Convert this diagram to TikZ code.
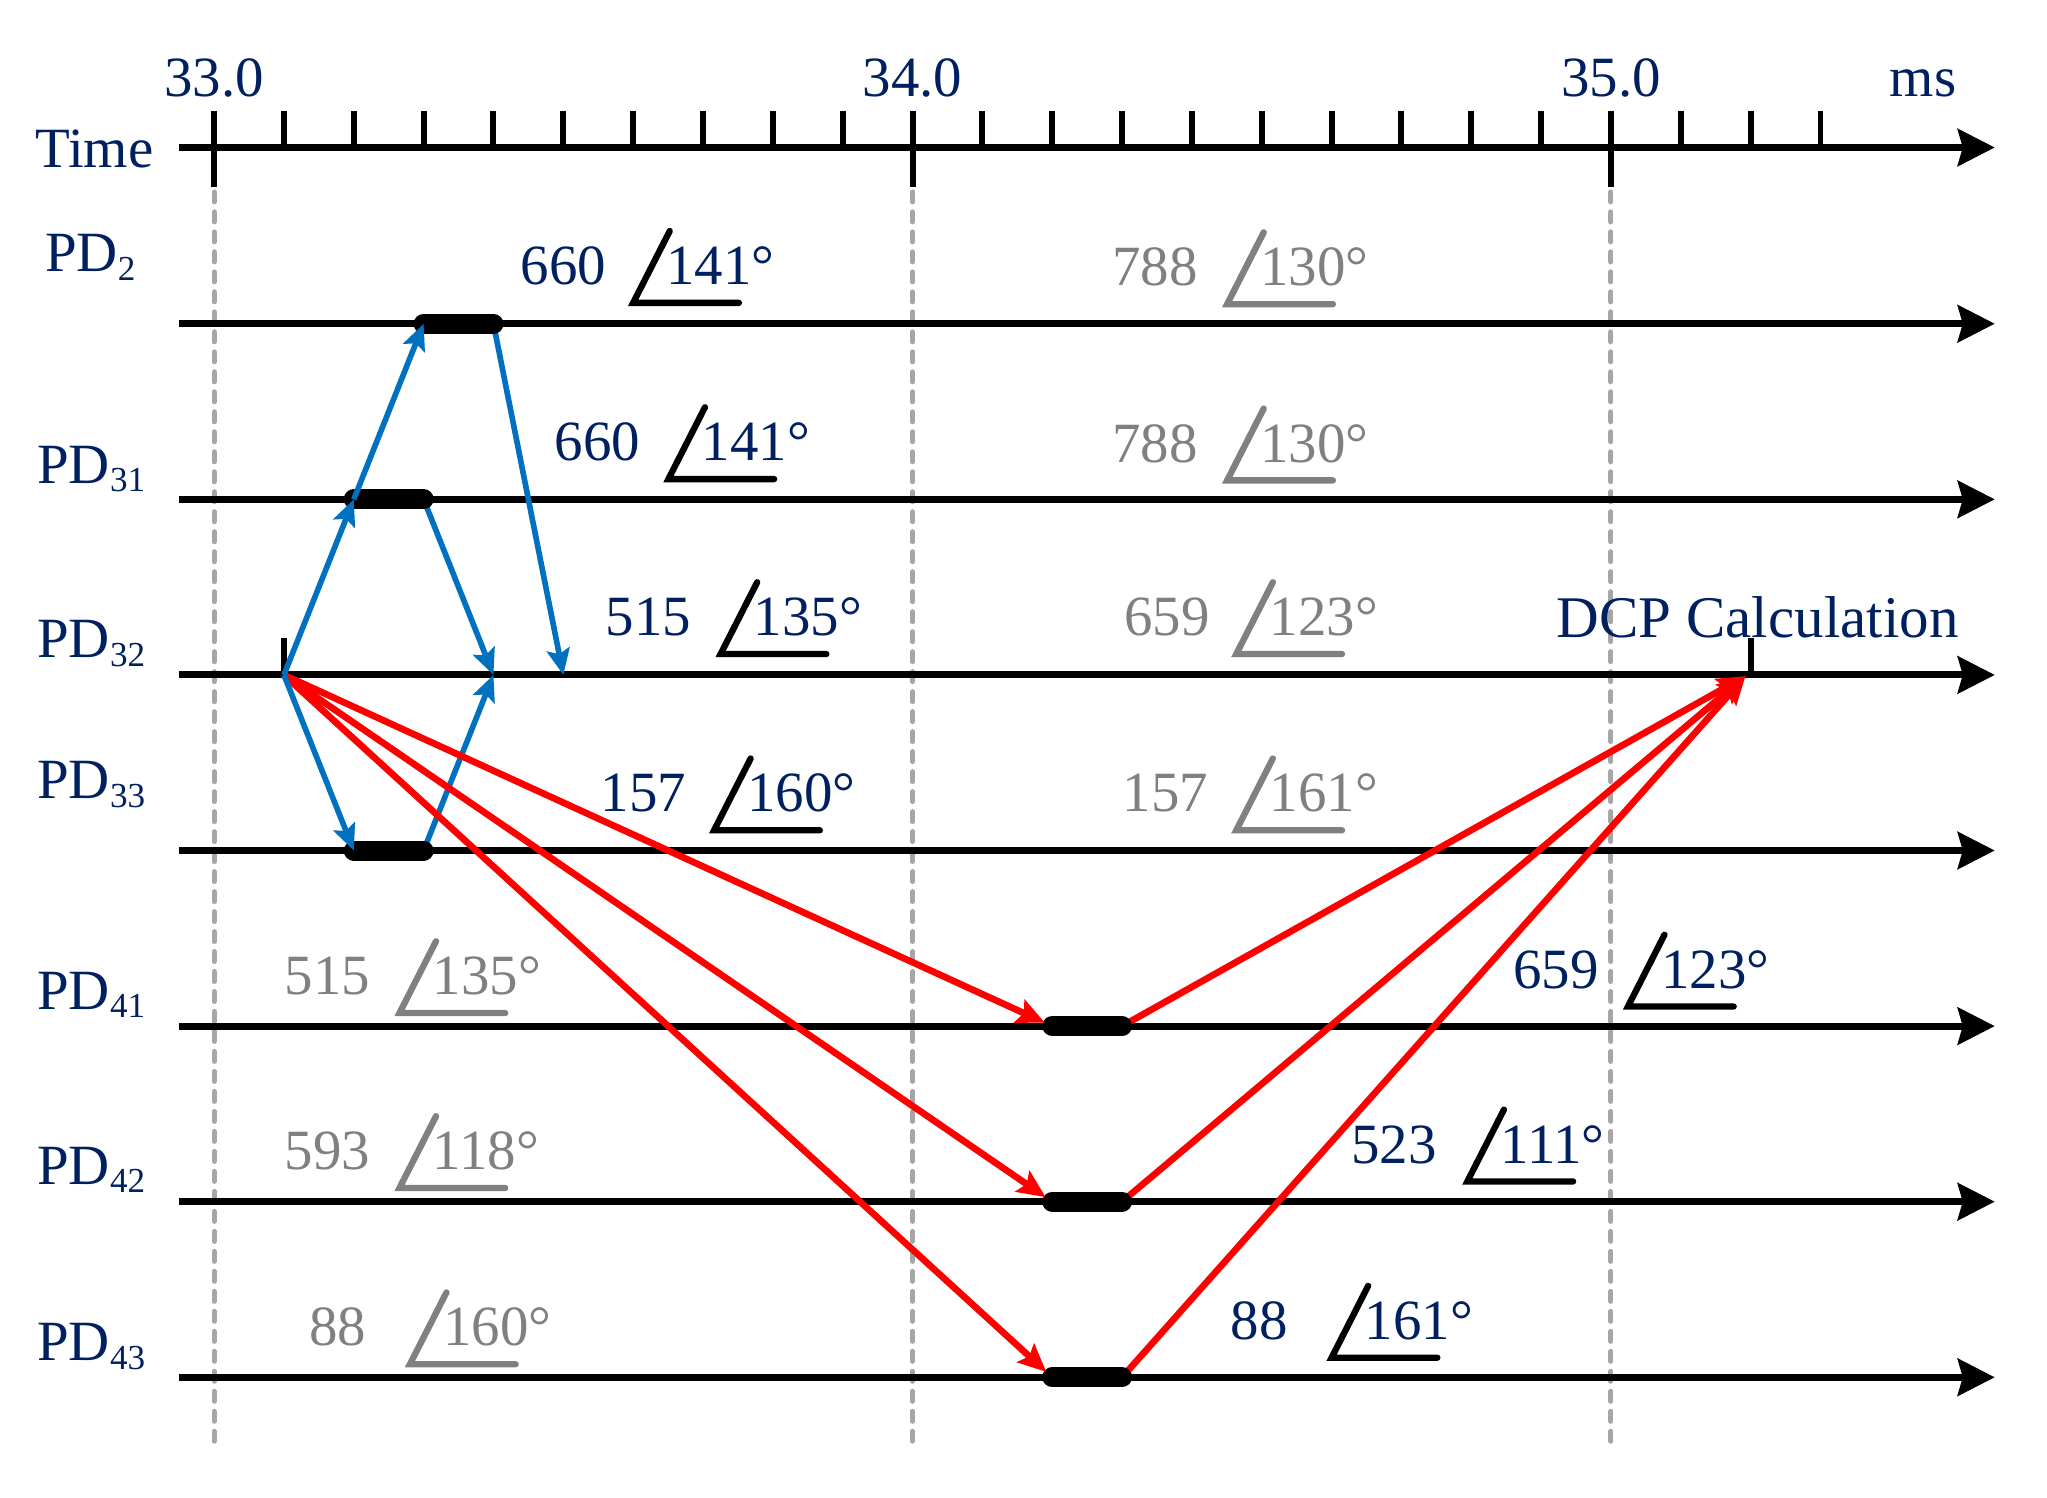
\documentclass[tikz,border=0pt]{standalone}
\usepackage{fontspec}
\setmainfont{Liberation Serif}
\usetikzlibrary{arrows.meta}
\definecolor{navy}{RGB}{0,32,96}
\definecolor{greytext}{RGB}{128,128,128}
\definecolor{gridgrey}{RGB}{166,166,166}
\definecolor{arrblue}{RGB}{0,112,192}
\definecolor{arrred}{RGB}{255,0,0}
\newcommand{\pdsub}[1]{\raisebox{-2.5pt}{\fontsize{10}{10}\selectfont #1}}
% #1 name, #2 vertex x, #3 vertex y, #4 magnitude, #5 magnitude right edge, #6 angle, #7 text colour, #8 mark colour
\newcommand{\anglab}[8]{%
  \node[lab, text=#7, anchor=base east] (#1m) at (#5, #3-14) {#4};
  \draw[angmark, draw=#8] (#2+28, #3-55) -- (#2, #3) -- (#2+81, #3);
  \node[lab, text=#7, anchor=base west] (#1a) at (#2+25, #3-14) {#6°};
}
\begin{document}
\begin{tikzpicture}[x=0.0130548cm, y=-0.0130548cm,
  lab/.style={font=\fontsize{16.2}{16.2}\selectfont, inner sep=0pt, text=navy},
  axisline/.style={line width=2pt, -{Stealth[length=3.7mm,width=3.7mm,inset=0.5mm]}},
  tickline/.style={line width=1.7pt},
  gridline/.style={gridgrey, line width=0.5mm, line cap=round, dash pattern=on 1.0mm off 1.0mm},
  busy/.style={line width=2mm, line cap=round},
  bluearr/.style={arrblue, line width=1.6pt, -{Stealth[length=2.6mm,width=2.3mm,inset=0.5mm]}},
  redarr/.style={arrred, line width=1.9pt, -{Stealth[length=2.8mm,width=2.5mm,inset=0.5mm]}},
  angmark/.style={line width=1.8pt, line cap=round, line join=miter},
]
\useasboundingbox (0,0) rectangle (1568,1147);

% grid lines
\foreach \xx in {164,699,1234} \draw[gridline] (\xx,147) -- (\xx,1104);

% time axis
\coordinate (ts) at (137,113);
\coordinate (te) at (1528,113);
\draw[axisline] (ts) -- (te);
\foreach \i in {0,...,23} {
  \pgfmathsetmacro\xx{164+53.5*\i}
  \draw[tickline] (\xx,85) -- (\xx,113);
}
\foreach \xx in {164,699,1234} \draw[tickline] (\xx,85) -- (\xx,143);
\node[lab, anchor=base] (t33) at (164,74) {33.0};
\node[lab, anchor=base] (t34) at (699,74) {34.0};
\node[lab, anchor=base] (t35) at (1234,74) {35.0};
\node[lab, anchor=base] (tms) at (1473,74) {ms};
\node[lab, anchor=base east] (ttime) at (118,128) {Time};

% PD lines
\foreach \n/\yy in {2/248, 31/382.5, 32/517, 33/651.5, 41/786, 42/920.5, 43/1055} {
  \coordinate (s\n) at (137,\yy);
  \coordinate (e\n) at (1528,\yy);
  \draw[axisline] (s\n) -- (e\n);
}
\node[lab, anchor=base west] (lpd2) at (34,208) {PD\pdsub{2}};
\node[lab, anchor=base west] (lpd31) at (28,370) {PD\pdsub{31}};
\node[lab, anchor=base west] (lpd32) at (28,504) {PD\pdsub{32}};
\node[lab, anchor=base west] (lpd33) at (28,612) {PD\pdsub{33}};
\node[lab, anchor=base west] (lpd41) at (28,773) {PD\pdsub{41}};
\node[lab, anchor=base west] (lpd42) at (28,907) {PD\pdsub{42}};
\node[lab, anchor=base west] (lpd43) at (28,1042) {PD\pdsub{43}};

% key points
\coordinate (o) at (217.5,517);
\coordinate (m1) at (378,517);
\coordinate (m2) at (431.5,517);
\coordinate (dcp) at (1337,518);
\coordinate (b2a) at (324.5,248);   \coordinate (b2b) at (378,248);
\coordinate (b31a) at (271,382.5);  \coordinate (b31b) at (324.5,382.5);
\coordinate (b33a) at (271,651.5);  \coordinate (b33b) at (324.5,651.5);
\coordinate (b41a) at (806,786);    \coordinate (b41b) at (859.5,786);
\coordinate (b42a) at (806,920.5);  \coordinate (b42b) at (859.5,920.5);
\coordinate (b43a) at (806,1055);   \coordinate (b43b) at (859.5,1055);

% small ticks
\draw[tickline] (217.5,489) -- (o);
\draw[tickline] (1341,489) -- (1341,517);

% departing connectors (under the bars)
\draw[bluearr] (b31b) -- (m1);
\draw[bluearr] (b33b) -- (m1);
\draw[bluearr] (b2b) -- (m2);
\draw[redarr] (b41b) -- (dcp);
\draw[redarr] (b42b) -- (dcp);
\draw[redarr] (b43b) -- (dcp);

% busy bars
\foreach \n in {2,31,33,41,42,43} \draw[busy] (b\n a) -- (b\n b);

% arriving connectors
\draw[redarr, shorten >=0.8mm] (o) -- (b41a);
\draw[redarr, shorten >=0.8mm] (o) -- (b42a);
\draw[redarr, shorten >=0.8mm] (o) -- (b43a);
\draw[bluearr] (o) -- (b31a);
\draw[bluearr] (b31a) -- (b2a);
\draw[bluearr] (o) -- (b33a);

\node[lab, font=\fontsize{16.8}{16.8}\selectfont, anchor=base west] (dcplab) at (1192,488) {DCP Calculation};

% magnitude / angle labels
\anglab{a1}{485}{232}{660}{465}{141}{navy}{black}
\anglab{a2}{940}{233}{788}{918}{130}{greytext}{greytext}
\anglab{a3}{512}{367}{660}{491}{141}{navy}{black}
\anglab{a4}{940}{368}{788}{918}{130}{greytext}{greytext}
\anglab{a5}{552}{501}{515}{530}{135}{navy}{black}
\anglab{a6}{947}{501}{659}{927}{123}{greytext}{greytext}
\anglab{a7}{547}{636}{157}{526}{160}{navy}{black}
\anglab{a8}{947}{636}{157}{926}{161}{greytext}{greytext}
\anglab{a9}{306}{776}{515}{284}{135}{greytext}{greytext}
\anglab{a10}{1247}{771}{659}{1225}{123}{navy}{black}
\anglab{a11}{306}{910}{593}{284}{118}{greytext}{greytext}
\anglab{a12}{1124}{905}{523}{1101}{111}{navy}{black}
\anglab{a13}{314}{1045}{88}{281}{160}{greytext}{greytext}
\anglab{a14}{1020}{1040}{88}{987}{161}{navy}{black}
\end{tikzpicture}
\end{document}
